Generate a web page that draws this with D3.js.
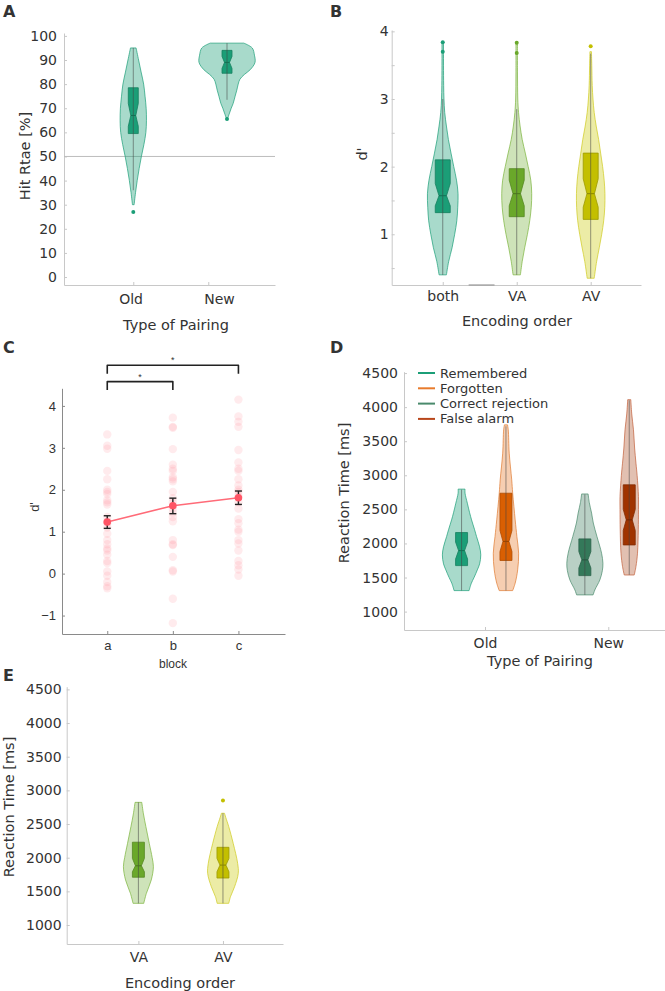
<!DOCTYPE html>
<html lang="en">
<head>
<meta charset="UTF-8">
<script src="https://d3js.org/d3.v7.min.js"></script>
<title>Figure</title>
<style>
  body { margin: 0; background: #fff; }
  svg text { fill: #333; }
</style>
</head>
<body>
<script>
// ---------- data: panel A (hit rate) ----------
const aCats = ["Old", "New"];
const aTicks = [0, 10, 20, 30, 40, 50, 60, 70, 80, 90, 100];
const aViolinPos = [1, 2.25];
const aLabelPos = [0.97, 2.15];
const aChance = 50;
// violin outline: [value, relative density]
const aOld = [[30,0.03],[35,0.08],[40,0.14],[45,0.21],[50,0.29],[55,0.38],[60,0.45],[65,0.47],[70,0.46],[75,0.42],[80,0.37],[85,0.28],[90,0.19],[95,0.1]];
const aNew = [[66,0.03],[68,0.09],[70,0.15],[72,0.22],[75,0.29],[77.5,0.35],[80,0.4],[82,0.46],[84,0.62],[86,0.83],[89,1],[92,0.98],[95,0.9],[97,0.6]];
const aBoxes = [
  {q1: 59.5, med: 67, q3: 78.5, nlo: 62.5, nhi: 72, wlo: 36, whi: 95, out: [27]},
  {q1: 84.5, med: 89, q3: 94, nlo: 86.5, nhi: 91.5, wlo: 73.5, whi: 97, out: [65.5]}
];

// ---------- data: panel B (d' by encoding order) ----------
const bCats = ["both", "VA", "AV"];
const bTicks = [0.5, 1, 1.5, 2, 2.5, 3, 3.5, 4];
const bBoth = [[0.4,0.24],[0.6,0.39],[0.8,0.61],[1.0,0.78],[1.2,0.92],[1.4,0.98],[1.6,1],[1.8,0.9],[2.0,0.72],[2.2,0.54],[2.4,0.37],[2.6,0.24],[2.8,0.13],[3.0,0.08],[3.2,0.06],[3.5,0.05],[3.85,0.05]];
const bVA = [[0.4,0.24],[0.6,0.36],[0.8,0.52],[1.0,0.7],[1.2,0.85],[1.4,0.95],[1.6,0.98],[1.8,0.92],[2.0,0.75],[2.2,0.56],[2.4,0.36],[2.6,0.22],[2.8,0.12],[3.0,0.07],[3.4,0.05],[3.85,0.05]];
const bAV = [[0.35,0.23],[0.6,0.39],[0.8,0.56],[1.0,0.72],[1.2,0.85],[1.4,0.92],[1.6,0.93],[1.8,0.88],[2.0,0.78],[2.2,0.65],[2.4,0.52],[2.6,0.36],[2.8,0.23],[3.0,0.15],[3.2,0.1],[3.5,0.07],[3.7,0.05]];
const bBoxes = [
  {q1: 1.32, med: 1.57, q3: 2.1, nlo: 1.42, nhi: 1.75, wlo: 0.4, whi: 3.0, out: [3.7, 3.84]},
  {q1: 1.26, med: 1.6, q3: 1.97, nlo: 1.42, nhi: 1.8, wlo: 0.4, whi: 2.85, out: [3.68, 3.83]},
  {q1: 1.22, med: 1.6, q3: 2.2, nlo: 1.4, nhi: 1.82, wlo: 0.35, whi: 3.67, out: [3.78]}
];

// ---------- data: panel C (d' per block) ----------
const cCats = ["a", "b", "c"];
const cTicks = [-1, 0, 1, 2, 3, 4];
const cPointsA = [3.32,3.05,2.98,2.45,2.25,2.0,1.95,1.9,1.75,1.7,1.65,1.35,1.25,1.2,1.1,0.95,0.8,0.7,0.6,0.55,0.45,0.3,0.25,0.05,-0.05,-0.2,-0.3,-0.35];
const cPointsB = [3.72,3.5,3.48,2.97,2.6,2.5,2.45,2.3,2.25,2.2,1.95,1.8,1.7,1.55,1.45,1.35,1.25,0.8,0.7,0.68,0.4,0.08,0.05,-0.6,-1.18];
const cPointsC = [4.15,3.75,3.62,3.5,2.95,2.65,2.5,2.45,2.25,2.1,2.0,1.95,1.85,1.7,1.55,1.3,1.2,1.05,1.0,0.8,0.72,0.55,0.3,0.2,0.1,-0.05];
const cMeans = [1.23, 1.62, 1.81];
const cErrLo = [1.08, 1.43, 1.65];
const cErrHi = [1.38, 1.8, 1.97];
const cBrackets = [
  {from: 1, to: 3, level: 4.97, drop: 0.2},
  {from: 1, to: 2, level: 4.58, drop: 0.2}
];

// ---------- data: panel D (RT by response) ----------
const dCats = ["Old", "New"];
const dTicks = [1000, 1500, 2000, 2500, 3000, 3500, 4000, 4500];
const dSeries = ["Remembered", "Forgotten", "Correct rejection", "False alarm"];
const dPos = [0.81, 1.17, 1.81, 2.17];
const dRem = [[1308,0.39],[1417,0.51],[1500,0.65],[1612,0.82],[1700,0.94],[1832,1],[1950,0.94],[2101,0.78],[2200,0.68],[2346,0.52],[2450,0.42],[2591,0.3],[2738,0.18],[2797,0.18]];
const dForg = [[1308,0.35],[1417,0.48],[1612,0.61],[1857,0.66],[2100,0.57],[2346,0.48],[2738,0.35],[2933,0.3],[3325,0.17],[3667,0.12],[3740,0.08]];
const dCR = [[1245,0.43],[1318,0.52],[1465,0.78],[1600,0.91],[1710,0.94],[1857,0.87],[2101,0.63],[2300,0.44],[2445,0.35],[2600,0.23],[2726,0.17]];
const dFA = [[1537,0.26],[1661,0.35],[1857,0.43],[2199,0.47],[2500,0.48],[2688,0.48],[3000,0.41],[3178,0.35],[3400,0.28],[3667,0.22],[3900,0.13],[4110,0.08]];
const dBoxes = [
  {q1: 1675, med: 1895, q3: 2160, nlo: 1770, nhi: 2020, wlo: 1310, whi: 2790, out: []},
  {q1: 1750, med: 2030, q3: 2737, nlo: 1880, nhi: 2190, wlo: 1310, whi: 3720, out: []},
  {q1: 1528, med: 1759, q3: 2067, nlo: 1640, nhi: 1880, wlo: 1245, whi: 2720, out: []},
  {q1: 1978, med: 2346, q3: 2860, nlo: 2190, nhi: 2500, wlo: 1540, whi: 4100, out: []}
];

// ---------- data: panel E (RT by encoding order) ----------
const eCats = ["VA", "AV"];
const eTicks = [1000, 1500, 2000, 2500, 3000, 3500, 4000, 4500];
const eVA = [[1322,0.35],[1470,0.52],[1668,0.84],[1866,0.98],[2000,0.9],[2213,0.71],[2460,0.49],[2650,0.33],[2822,0.22]];
const eAV = [[1322,0.38],[1420,0.49],[1569,0.76],[1767,1],[1916,0.96],[2213,0.67],[2460,0.38],[2600,0.18],[2660,0.1]];
const eBoxes = [
  {q1: 1710, med: 1880, q3: 2230, nlo: 1790, nhi: 1990, wlo: 1322, whi: 2822, out: []},
  {q1: 1698, med: 1890, q3: 2154, nlo: 1790, nhi: 1990, wlo: 1322, whi: 2660, out: [2850]}
];

// ---------- colours ----------
const teal   = {box: "#1b9e77", edge: "#1b9e77", fill: "rgba(27,158,119,0.38)"};
const green  = {box: "#6aa82a", edge: "#7ab43c", fill: "rgba(120,178,60,0.36)"};
const yellow = {box: "#c3bf00", edge: "#cfcb20", fill: "rgba(205,205,20,0.38)"};
const orange = {box: "#d95f02", edge: "#e07a30", fill: "rgba(230,120,40,0.36)"};
const dkgreen= {box: "#34795a", edge: "#4a8a6c", fill: "rgba(60,125,95,0.36)"};
const rust   = {box: "#a03300", edge: "#c2603a", fill: "rgba(175,80,40,0.36)"};

const font = "'DejaVu Sans', Verdana, sans-serif";
const svg = d3.select("body").append("svg")
  .attr("width", 665).attr("height", 991)
  .style("font-family", font);

function violin(g, x, y, w, pos, profile, box, col, bw){
  const cx = x(pos);
  const area = d3.area()
    .curve(d3.curveCatmullRom)
    .y(d => y(d[0]))
    .x0(d => cx - w(d[1]))
    .x1(d => cx + w(d[1]));
  g.append("path").attr("d", area(profile))
    .attr("fill", col.fill).attr("stroke", col.edge).attr("stroke-opacity", 0.7).attr("stroke-width", 1);

  const pts = [
    [cx - bw, y(box.q3)], [cx + bw, y(box.q3)], [cx + bw, y(box.nhi)],
    [cx + bw * 0.5, y(box.med)], [cx + bw, y(box.nlo)], [cx + bw, y(box.q1)],
    [cx - bw, y(box.q1)], [cx - bw, y(box.nlo)], [cx - bw * 0.5, y(box.med)],
    [cx - bw, y(box.nhi)]
  ];
  g.append("path").attr("d", d3.line()(pts) + "Z")
    .attr("fill", col.box).attr("stroke", d3.color(col.box).darker(0.6)).attr("stroke-width", 0.8);

  g.append("line")
    .attr("x1", cx).attr("x2", cx).attr("y1", y(box.wlo)).attr("y2", y(box.whi))
    .attr("stroke", "#444").attr("stroke-opacity", 0.55).attr("stroke-width", 1);

  g.append("line")
    .attr("x1", cx - bw * 0.5).attr("x2", cx + bw * 0.5)
    .attr("y1", y(box.med)).attr("y2", y(box.med))
    .attr("stroke", d3.color(col.box).darker(1)).attr("stroke-width", 1);

  g.selectAll(null).data(box.out).enter().append("circle")
    .attr("cx", cx).attr("cy", d => y(d)).attr("r", 2)
    .attr("fill", col.box);
}

function axes(g, x, y, yTicks, yFmt, xTicks, xFmt, opts){
  const ya = g.append("g").attr("transform", `translate(${x.range()[0]},0)`)
    .call(d3.axisLeft(y).tickValues(yTicks).tickFormat(yFmt).tickSizeInner(-3).tickSizeOuter(0).tickPadding(opts.ypad));
  const xa = g.append("g").attr("transform", `translate(0,${y.range()[0]})`)
    .call(d3.axisBottom(x).tickValues(xTicks).tickFormat(xFmt).tickSizeInner(-3).tickSizeOuter(0).tickPadding(opts.xpad));
  [ya, xa].forEach(a => {
    a.select(".domain").attr("stroke", opts.axis);
    a.selectAll(".tick line").attr("stroke", opts.axis);
    a.selectAll(".tick text").attr("fill", "#333")
      .style("font-family", opts.font || font).style("font-size", opts.size + "px");
  });
  return {ya, xa};
}

function panelLetter(txt, x, y){
  svg.append("text").attr("x", x).attr("y", y).text(txt)
    .style("font-family", "'DejaVu Sans', sans-serif").style("font-weight", "bold").style("font-size", "16px")
    .attr("fill", "#222");
}

function yLabel(txt, cx, cy, size, fam){
  svg.append("text").attr("transform", `translate(${cx},${cy}) rotate(-90)`)
    .attr("text-anchor", "middle").attr("dy", "0.35em").text(txt)
    .style("font-size", size + "px").style("font-family", fam || font);
}
function xLabel(txt, cx, by, size, fam){
  svg.append("text").attr("x", cx).attr("y", by).attr("text-anchor", "middle").text(txt)
    .style("font-size", size + "px").style("font-family", fam || font);
}

// ================= Panel A =================
{
  const g = svg.append("g");
  const x = d3.scaleLinear().domain([0.076, 2.89]).range([64, 275]);
  const y = d3.scaleLinear().domain([-3.3, 101.2]).range([285, 33]);
  const w = d3.scaleLinear().domain([0, 1]).range([0, 28]);
  const ax = axes(g, x, y, aTicks, d3.format("d"), [1, 2], () => "", {ypad: 7, xpad: 6, axis: "#c8c8c8", size: 14});
  g.append("line").attr("x1", x.range()[0]).attr("x2", x.range()[1])
    .attr("y1", y(aChance)).attr("y2", y(aChance)).attr("stroke", "#bdbdbd").attr("stroke-width", 1);
  violin(g, x, y, w, aViolinPos[0], aOld, aBoxes[0], teal, 5);
  violin(g, x, y, w, aViolinPos[1], aNew, aBoxes[1], teal, 5);
  g.selectAll(null).data(aCats).enter().append("text")
    .attr("x", (d, i) => x(aLabelPos[i])).attr("y", 304).attr("text-anchor", "middle")
    .text(d => d).style("font-size", "14px");
  xLabel("Type of Pairing", 176, 330, 14.5);
  yLabel("Hit Rtae [%]", 25, 156, 14.5);
  panelLetter("A", 3, 17);
}

// ================= Panel B =================
{
  const g = svg.append("g");
  const x = d3.scaleLinear().domain([0.31, 3.68]).range([391.7, 641]);
  const y = d3.scaleLinear().domain([0.25, 4.02]).range([285, 30]);
  const w = d3.scaleLinear().domain([0, 1]).range([0, 15.3]);
  axes(g, x, y, bTicks, d => Number.isInteger(d) ? d : "", [1, 2, 3], d => bCats[d - 1], {ypad: 3, xpad: 6, axis: "#c8c8c8", size: 14});
  g.append("line").attr("x1", x(1.35)).attr("x2", x(1.7)).attr("y1", y.range()[0]).attr("y2", y.range()[0])
    .attr("stroke", "#999").attr("stroke-width", 1.2);
  violin(g, x, y, w, 1, bBoth, bBoxes[0], teal, 7.5);
  violin(g, x, y, w, 2, bVA, bBoxes[1], green, 7.5);
  violin(g, x, y, w, 3, bAV, bBoxes[2], yellow, 7.5);
  xLabel("Encoding order", 517, 326, 14.5);
  yLabel("d'", 362, 154, 14.5);
  panelLetter("B", 330, 17);
}

// ================= Panel C =================
{
  const cf = "'Liberation Sans', Arial, sans-serif";
  const g = svg.append("g");
  const x = d3.scaleLinear().domain([0.31, 3.71]).range([62, 285]);
  const y = d3.scaleLinear().domain([-1.44, 4.42]).range([634, 388.3]);
  axes(g, x, y, cTicks, d3.format("d"), [1, 2, 3], d => cCats[d - 1], {ypad: 6, xpad: 7, axis: "#8a8a8a", size: 13, font: cf});
  [cPointsA, cPointsB, cPointsC].forEach((pts, i) => {
    g.selectAll(null).data(pts).enter().append("circle")
      .attr("cx", x(i + 1)).attr("cy", d => y(d)).attr("r", 4.2)
      .attr("fill", "#ff8f9c").attr("fill-opacity", 0.18);
  });
  g.append("path").datum(cMeans)
    .attr("d", d3.line().x((d, i) => x(i + 1)).y(d => y(d)))
    .attr("fill", "none").attr("stroke", "#ff6b78").attr("stroke-width", 1.6);
  cMeans.forEach((m, i) => {
    const cx = x(i + 1);
    g.append("line").attr("x1", cx).attr("x2", cx).attr("y1", y(cErrLo[i])).attr("y2", y(cErrHi[i]))
      .attr("stroke", "#222").attr("stroke-width", 1.4);
    [cErrLo[i], cErrHi[i]].forEach(v => g.append("line")
      .attr("x1", cx - 3.5).attr("x2", cx + 3.5).attr("y1", y(v)).attr("y2", y(v))
      .attr("stroke", "#222").attr("stroke-width", 1.4));
    g.append("circle").attr("cx", cx).attr("cy", y(m)).attr("r", 3.8).attr("fill", "#ff5566");
  });
  cBrackets.forEach(b => {
    const pts = [[x(b.from), y(b.level - b.drop)], [x(b.from), y(b.level)], [x(b.to), y(b.level)], [x(b.to), y(b.level - b.drop)]];
    g.append("path").attr("d", d3.line()(pts)).attr("fill", "none")
      .attr("stroke", "#222").attr("stroke-width", 1.6).attr("stroke-linejoin", "round");
    g.append("text").attr("x", (x(b.from) + x(b.to)) / 2).attr("y", y(b.level) - 2)
      .attr("text-anchor", "middle").text("*").style("font-size", "9px").style("font-family", cf);
  });
  xLabel("block", 173, 668, 12, cf);
  yLabel("d'", 34, 507, 13, cf);
  panelLetter("C", 3, 353);
}

// ================= Panel D =================
{
  const g = svg.append("g");
  const x = d3.scaleLinear().domain([0.343, 2.46]).range([404, 665]);
  const y = d3.scaleLinear().domain([730, 4520]).range([630, 371.7]);
  const w = d3.scaleLinear().domain([0, 1]).range([0, 19.2]);
  axes(g, x, y, dTicks, d3.format("d"), [1, 2], d => dCats[d - 1], {ypad: 6, xpad: 8, axis: "#c8c8c8", size: 14});
  const cols = [teal, orange, dkgreen, rust];
  [dRem, dForg, dCR, dFA].forEach((p, i) => violin(g, x, y, w, dPos[i], p, dBoxes[i], cols[i], 6));
  const legCols = ["#1b9e77", "#e87b2c", "#4a8a6c", "#b8461a"];
  const lg = g.append("g").attr("transform", "translate(418,373)");
  dSeries.forEach((s, i) => {
    lg.append("line").attr("x1", 0).attr("x2", 17).attr("y1", i * 15.3).attr("y2", i * 15.3)
      .attr("stroke", legCols[i]).attr("stroke-width", 2);
    lg.append("text").attr("x", 22).attr("y", i * 15.3).attr("dy", "0.35em").text(s)
      .style("font-size", "13px");
  });
  xLabel("Type of Pairing", 540, 666, 14.5);
  yLabel("Reaction Time [ms]", 344, 493, 14.5);
  panelLetter("D", 330, 353);
}

// ================= Panel E =================
{
  const g = svg.append("g");
  const x = d3.scaleLinear().domain([0.152, 2.71]).range([66.7, 283]);
  const y = d3.scaleLinear().domain([718, 4540]).range([944, 686.7]);
  const w = d3.scaleLinear().domain([0, 1]).range([0, 15.3]);
  axes(g, x, y, eTicks, d3.format("d"), [1, 2], d => eCats[d - 1], {ypad: 5, xpad: 8, axis: "#c8c8c8", size: 14});
  violin(g, x, y, w, 1, eVA, eBoxes[0], green, 6);
  violin(g, x, y, w, 2, eAV, eBoxes[1], yellow, 6);
  xLabel("Encoding order", 180, 988, 14.5);
  yLabel("Reaction Time [ms]", 8.5, 807, 14.5);
  panelLetter("E", 3, 681);
}
</script>
</body>
</html>
